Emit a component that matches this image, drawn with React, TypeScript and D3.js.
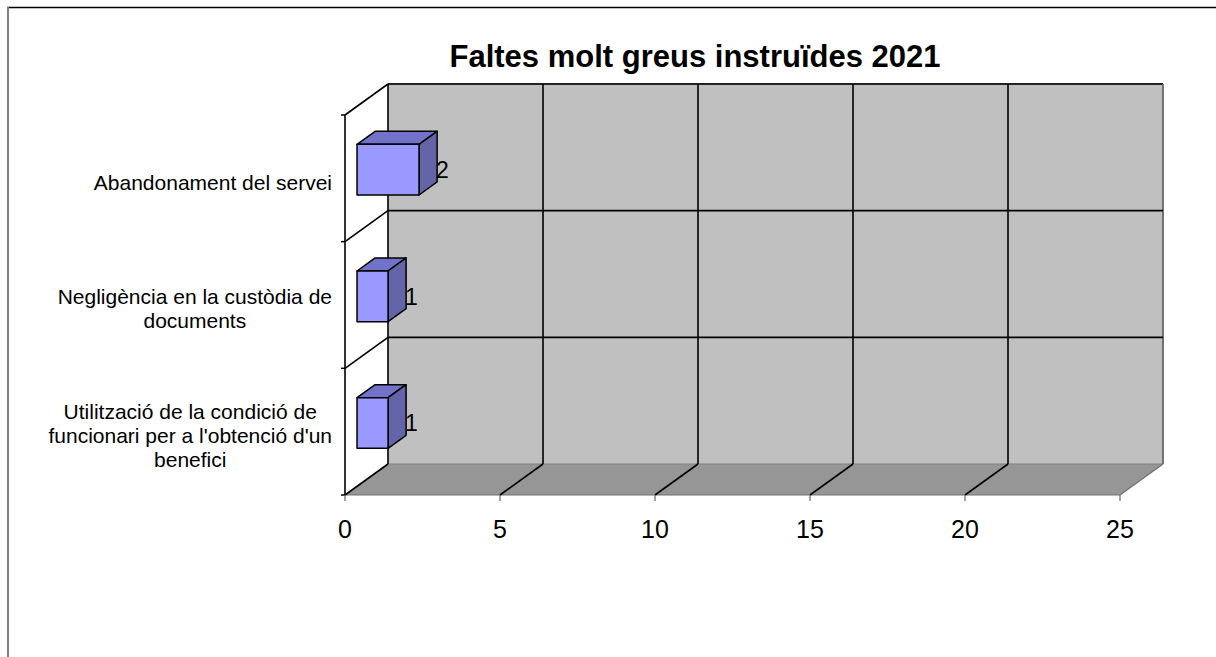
import React from "react";
import * as d3 from "d3";

const title = "Faltes molt greus instruïdes 2021";
const categories = [
  "Utilització de la condició de funcionari per a l'obtenció d'un benefici",
  "Negligència en la custòdia de documents",
  "Abandonament del servei",
];
const categoryLines = [
  ["Utilització de la condició de", "funcionari per a l'obtenció d'un", "benefici"],
  ["Negligència en la custòdia de", "documents"],
  ["Abandonament del servei"],
];
const values = [1, 1, 2];
const xTicks = [0, 5, 10, 15, 20, 25];

const W = 1216;
const H = 657;
const FONT = "Liberation Sans, Arial, sans-serif";

function measure(text: string, size: number, weight = "normal") {
  const c = document.createElement("canvas").getContext("2d")!;
  c.font = `${weight} ${size}px ${FONT}`;
  return c.measureText(text).width;
}

export default function App() {
  const x = d3.scaleLinear().domain([0, 25]).range([345, 1120]);
  const c = d3.scaleLinear().domain([0, 3]).range([495, 115]);
  const band = d3
    .scaleBand<string>()
    .domain(categories)
    .range([0, 3])
    .paddingInner(0.6)
    .paddingOuter(0.3);
  const DX = 43;
  const DY = 31;
  const P = (v: number, cc: number, d: number): [number, number] => [
    x(v) + d * DX,
    c(cc) - d * DY,
  ];
  const pts = (arr: [number, number][]) => arr.map((p) => p.join(",")).join(" ");
  const line = (a: [number, number], b: [number, number]) => ({
    x1: a[0],
    y1: a[1],
    x2: b[0],
    y2: b[1],
  });

  const d0 = 0.28;
  const d1 = 0.7;
  const catLabelSize = 21;
  const lineH = 24;

  return (
    <svg
      width={W}
      height={H}
      style={{ position: "absolute", left: 0, top: 0, background: "#fff" }}
      fontFamily={FONT}
    >
      <line x1={7} y1={7.5} x2={W} y2={7.5} stroke="#000" strokeWidth={1.5} />
      <line x1={8} y1={7} x2={8} y2={H} stroke="#808080" strokeWidth={2} />

      <text
        x={695}
        y={67}
        textAnchor="middle"
        fontSize={31}
        fontWeight="bold"
        fill="#000"
      >
        {title}
      </text>

      <polygon
        points={pts([P(0, 0, 1), P(25, 0, 1), P(25, 3, 1), P(0, 3, 1)])}
        fill="#C0C0C0"
        stroke="none"
      />
      <polygon
        points={pts([P(0, 0, 0), P(25, 0, 0), P(25, 0, 1), P(0, 0, 1)])}
        fill="#969696"
        stroke="none"
      />
      <line {...line(P(0, 0, 1), P(25, 0, 1))} stroke="#808080" strokeWidth={1} />
      <line {...line(P(25, 0, 0), P(25, 0, 1))} stroke="#707070" strokeWidth={1.2} />
      <line {...line(P(0, 0, 0), P(25, 0, 0))} stroke="#707070" strokeWidth={1.2} />

      <line {...line(P(0, 3, 1), P(25, 3, 1))} stroke="#222" strokeWidth={1.8} />
      <line {...line(P(25, 0, 1), P(25, 3, 1))} stroke="#666" strokeWidth={1.8} />

      {xTicks.slice(1, -1).map((v) => (
        <g key={v}>
          <line {...line(P(v, 0, 1), P(v, 3, 1))} stroke="#000" strokeWidth={1.6} />
          <line {...line(P(v, 0, 0), P(v, 0, 1))} stroke="#000" strokeWidth={1.6} />
        </g>
      ))}
      <line {...line(P(0, 0, 1), P(0, 3, 1))} stroke="#000" strokeWidth={1.6} />

      {[0, 1, 2, 3].map((k) => (
        <g key={k}>
          {k > 0 && k < 3 && (
            <line {...line(P(0, k, 1), P(25, k, 1))} stroke="#000" strokeWidth={1.6} />
          )}
          <line {...line(P(0, k, 0), P(0, k, 1))} stroke="#000" strokeWidth={1.6} />
          <line
            x1={x(0) - 4}
            y1={c(k)}
            x2={x(0)}
            y2={c(k)}
            stroke="#000"
            strokeWidth={1.5}
          />
        </g>
      ))}
      <line {...line(P(0, 0, 0), P(0, 3, 0))} stroke="#000" strokeWidth={1.6} />

      {categories.map((cat, i) => {
        const v = values[i];
        const b0 = band(cat)!;
        const b1 = b0 + band.bandwidth();
        const front = [P(0, b0, d0), P(v, b0, d0), P(v, b1, d0), P(0, b1, d0)] as [number, number][];
        const top = [P(0, b1, d0), P(v, b1, d0), P(v, b1, d1), P(0, b1, d1)] as [number, number][];
        const side = [P(v, b0, d0), P(v, b0, d1), P(v, b1, d1), P(v, b1, d0)] as [number, number][];
        const lab = P(v, (b0 + b1) / 2, d0);
        return (
          <g key={cat} stroke="#000" strokeWidth={1.5} strokeLinejoin="round">
            <polygon points={pts(top)} fill="#7272C8" />
            <polygon points={pts(side)} fill="#6464A8" />
            <polygon points={pts(front)} fill="#9999FF" />
            <text
              x={lab[0] + (d1 - d0) * DX - 1}
              y={lab[1]}
              dy="0.36em"
              fontSize={23}
              fill="#000"
              stroke="none"
            >
              {v}
            </text>
          </g>
        );
      })}

      {xTicks.map((v) => (
        <g key={v}>
          <line x1={x(v)} y1={c(0)} x2={x(v)} y2={c(0) + 6} stroke="#666" strokeWidth={1.2} />
          <text x={x(v)} y={538} textAnchor="middle" fontSize={25} fill="#000">
            {v}
          </text>
        </g>
      ))}

      {categories.map((cat, i) => {
        const lines = categoryLines[i];
        const maxW = Math.max(...lines.map((l) => measure(l, catLabelSize)));
        const cx = 332 - maxW / 2;
        const cy = c(i + 0.5) + 4;
        const startY = cy - ((lines.length - 1) * lineH) / 2;
        return (
          <text key={cat} textAnchor="middle" fontSize={catLabelSize} fill="#000">
            {lines.map((l, j) => (
              <tspan key={j} x={cx} y={startY + j * lineH} dy="0.35em">
                {l}
              </tspan>
            ))}
          </text>
        );
      })}
    </svg>
  );
}
